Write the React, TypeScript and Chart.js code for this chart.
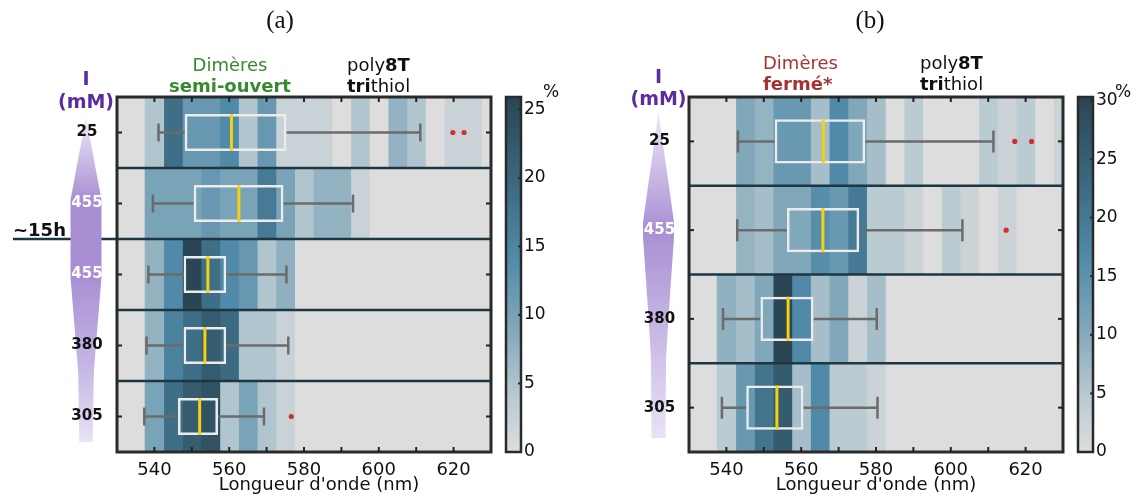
import React, { useEffect, useRef } from 'react';
import { Chart, registerables } from 'chart.js';

Chart.register(...registerables);
Chart.defaults.font.family = '"DejaVu Sans", Verdana, sans-serif';

// ---------- shared axis data ----------
const BIN_CENTERS = [540, 545, 550, 555, 560, 565, 570, 575, 580, 585, 590, 595, 600, 605, 610, 615, 620, 625, 630];
const BIN_WIDTH = 5;
const X_MIN = 530;
const X_MAX = 630;
const X_TICK_LABELS = [540, 560, 580, 600, 620];
const X_MINOR_TICKS = [540, 550, 560, 570, 580, 590, 600, 610, 620];
const X_TITLE = "Longueur d'onde (nm)";

// ---------- panel (a) ----------
const ROWS_A = ['25 mM', '455 mM', '455 mM (~15h)', '380 mM', '305 mM'];
const IONIC_A = ['25', '455', '455', '380', '305'];
const HEAT_A_25 = [4.7, 18.6, 11.7, 11.7, 14.2, 4.7, 11.7, 2.2, 2.2, 2.2, 0, 4.7, 0, 7.3, 4.7, 0, 2.2, 2.2, 0];
const HEAT_A_455 = [9.8, 9.8, 9.8, 11.7, 9.8, 9.8, 16.8, 9.8, 4.7, 7.3, 7.3, 2.2, 0, 0, 0, 0, 0, 0, 0];
const HEAT_A_455_15H = [7.3, 14.2, 25.9, 18.6, 14.2, 11.7, 4.7, 7.8, 0, 0, 0, 0, 0, 0, 0, 0, 0, 0, 0];
const HEAT_A_380 = [7.3, 15.5, 18.6, 22, 19.4, 4.7, 4.7, 2.2, 0, 0, 0, 0, 0, 0, 0, 0, 0, 0, 0];
const HEAT_A_305 = [9.8, 18.6, 22, 23.8, 4.7, 9.8, 4.7, 2.2, 0, 0, 0, 0, 0, 0, 0, 0, 0, 0, 0];
const WHISK_LO_A = [541.1, 539.6, 538.4, 537.9, 537.3];
const Q1_A = [548.1, 550.5, 547.8, 547.8, 546.3];
const MEDIAN_A = [560.6, 562.6, 554.3, 553.5, 552.1];
const Q3_A = [575.3, 574.5, 559.2, 559.2, 557.0];
const WHISK_HI_A = [611.1, 593.1, 575.3, 575.8, 569.3];
const OUTLIERS_A = [[619.8, 622.8], [], [], [], [576.6]];
const CB_TICKS_A = [0, 5, 10, 15, 20, 25];
const CB_MAX_A = 25.9;

// ---------- panel (b) ----------
const ROWS_B = ['25 mM', '455 mM', '380 mM', '305 mM'];
const IONIC_B = ['25', '455', '380', '305'];
const HEAT_B_25 = [0, 10.6, 8.5, 13.6, 13.6, 6.7, 16.7, 10.6, 6.7, 0, 4.5, 0, 0, 0, 4.5, 2.4, 4.5, 0, 2.4];
const HEAT_B_455 = [0, 8.5, 6.7, 10.6, 10.6, 15.8, 13.6, 19.7, 4.5, 4.5, 2.4, 0, 4.5, 2.4, 0, 2.4, 0, 0, 0];
const HEAT_B_380 = [9, 6.7, 10.6, 30.3, 16.7, 6.7, 10.6, 2.4, 6.7, 0, 0, 0, 0, 0, 0, 0, 0, 0, 0];
const HEAT_B_305 = [4.5, 13.6, 20.6, 25.8, 6.7, 16.7, 4.5, 4.5, 2.4, 0, 0, 0, 0, 0, 0, 0, 0, 0, 0];
const WHISK_LO_B = [543.1, 542.9, 539.1, 538.8];
const Q1_B = [552.9, 556.2, 549.1, 545.3];
const MEDIAN_B = [565.9, 565.8, 556.5, 553.5];
const Q3_B = [577.1, 575.5, 563.3, 560.6];
const WHISK_HI_B = [611.4, 603.1, 580.2, 580.4];
const OUTLIERS_B = [[617.1, 621.6], [614.8], [], []];
const CB_TICKS_B = [0, 5, 10, 15, 20, 25, 30];
const CB_MAX_B = 30.3;

// ---------- colormap ----------
const CMAP_STOPS: [number, number[]][] = [
  [0, [221, 221, 221]],
  [0.15, [186, 203, 210]],
  [0.35, [128, 167, 186]],
  [0.55, [80, 138, 168]],
  [0.75, [60, 106, 129]],
  [1, [42, 70, 84]],
];
function cmap(t: number): string {
  const v = Math.max(0, Math.min(1, t));
  for (let i = 1; i < CMAP_STOPS.length; i++) {
    const [t1, c1] = CMAP_STOPS[i];
    const [t0, c0] = CMAP_STOPS[i - 1];
    if (v <= t1) {
      const f = (v - t0) / (t1 - t0);
      const c = c0.map((x, k) => Math.round(x + (c1[k] - x) * f));
      return `rgb(${c[0]},${c[1]},${c[2]})`;
    }
  }
  return 'rgb(42,70,84)';
}

const FONT = '"DejaVu Sans", Verdana, sans-serif';
const DARK_LINE = '#1d3642';

const PANELS: any[] = [
  {
    key: 'a', left: 0, w: 565,
    area: { left: 117, right: 491, top: 97, bottom: 452 },
    rows: ROWS_A, ionic: IONIC_A, whiteRows: [1, 2],
    heat: [HEAT_A_25, HEAT_A_455, HEAT_A_455_15H, HEAT_A_380, HEAT_A_305],
    wlo: WHISK_LO_A, q1: Q1_A, med: MEDIAN_A, q3: Q3_A, whi: WHISK_HI_A, out: OUTLIERS_A,
    cbTicks: CB_TICKS_A, cbMax: CB_MAX_A, cbX: 506, cbW: 15,
    cap: 9, boxPct: 0.52,
    letter: '(a)', letterX: 280,
    dim: { text1: 'Dimères', text2: 'semi-ouvert', color: '#378a2e', x: 230, align: 'center', y1: 71, y2: 92 },
    poly: { x: 347, y1: 71, y2: 92 },
    xTitleX: 319,
    shape: { cx: 86, pts: [[0, 117], [15.5, 200], [15.5, 277], [7.8, 372], [6.7, 442]],
      stops: [[117, '#efe9f8'], [200, '#a88fd3'], [277, '#a88fd3'], [372, '#c7b9e5'], [442, '#e9e2f5']] },
    unitY1: 80, unitY2: 103,
    breakAfter: 1, breakLabel: '~15h',
  },
  {
    key: 'b', left: 565, w: 574,
    area: { left: 124, right: 498, top: 97, bottom: 452 },
    rows: ROWS_B, ionic: IONIC_B, whiteRows: [1],
    heat: [HEAT_B_25, HEAT_B_455, HEAT_B_380, HEAT_B_305],
    wlo: WHISK_LO_B, q1: Q1_B, med: MEDIAN_B, q3: Q3_B, whi: WHISK_HI_B, out: OUTLIERS_B,
    cbTicks: CB_TICKS_B, cbMax: CB_MAX_B, cbX: 513, cbW: 15,
    cap: 11, boxPct: 0.5,
    letter: '(b)', letterX: 305,
    dim: { text1: 'Dimères', text2: 'fermé*', color: '#a83232', x: 198, align: 'left', y1: 69, y2: 90 },
    poly: { x: 355, y1: 69, y2: 90 },
    xTitleX: null,
    shape: { cx: 93.5, pts: [[0, 112], [15.5, 222], [15.5, 237], [10, 317], [7.5, 360], [7, 438]],
      stops: [[112, '#efe9f8'], [230, '#a88fd3'], [317, '#c2b2e2'], [438, '#e9e2f5']] },
    unitY1: 78, unitY2: 100,
    breakAfter: null, breakLabel: null,
  },
];

function line(ctx: CanvasRenderingContext2D, x1: number, y1: number, x2: number, y2: number) {
  ctx.beginPath();
  ctx.moveTo(x1, y1);
  ctx.lineTo(x2, y2);
  ctx.stroke();
}

function text(ctx: CanvasRenderingContext2D, s: string, x: number, y: number, font: string, color: string, align: CanvasTextAlign = 'center', baseline: CanvasTextBaseline = 'alphabetic') {
  ctx.font = font;
  ctx.fillStyle = color;
  ctx.textAlign = align;
  ctx.textBaseline = baseline;
  ctx.fillText(s, x, y);
}

function mixed(ctx: CanvasRenderingContext2D, parts: [string, boolean][], x: number, y: number, size: number, color: string) {
  let cx = x;
  ctx.fillStyle = color;
  ctx.textAlign = 'left';
  ctx.textBaseline = 'alphabetic';
  for (const [s, b] of parts) {
    ctx.font = `${b ? 'bold ' : ''}${size}px ${FONT}`;
    ctx.fillText(s, cx, y);
    cx += ctx.measureText(s).width;
  }
}

function makePlugin(p: any) {
  return {
    id: 'deco_' + p.key,
    beforeDatasetsDraw(chart: any) {
      const { ctx, chartArea: a } = chart;
      ctx.save();
      ctx.fillStyle = '#dddddd';
      ctx.fillRect(a.left, a.top, a.right - a.left, a.bottom - a.top);
      ctx.restore();
    },
    afterDatasetsDraw(chart: any) {
      const ctx: CanvasRenderingContext2D = chart.ctx;
      const a = chart.chartArea;
      const xs = chart.scales.x;
      const ys = chart.scales.y;
      const cs = chart.scales.cb;
      const n = p.rows.length;
      const rowY = (i: number) => ys.getPixelForValue(i);
      ctx.save();
      ctx.lineCap = 'butt';

      // row separators
      ctx.strokeStyle = DARK_LINE;
      ctx.lineWidth = 2.5;
      for (let i = 0; i < n - 1; i++) {
        const y = (rowY(i) + rowY(i + 1)) / 2;
        line(ctx, a.left, y, a.right, y);
      }
      // time break line
      if (p.breakAfter != null) {
        const y = (rowY(p.breakAfter) + rowY(p.breakAfter + 1)) / 2;
        line(ctx, 13, y, a.left, y);
        text(ctx, p.breakLabel, 13, y - 3, `bold 18px ${FONT}`, '#111', 'left', 'alphabetic');
      }

      // frame
      ctx.strokeStyle = '#2a2a2a';
      ctx.lineWidth = 3;
      ctx.strokeRect(a.left, a.top, a.right - a.left, a.bottom - a.top);

      // inner ticks
      ctx.lineWidth = 2;
      ctx.strokeStyle = '#222';
      for (let i = 0; i < n; i++) {
        const y = rowY(i);
        line(ctx, a.left, y, a.left + 5, y);
        line(ctx, a.right - 5, y, a.right, y);
      }
      for (const v of X_MINOR_TICKS) {
        const x = xs.getPixelForValue(v);
        line(ctx, x, a.top, x, a.top + 5);
        line(ctx, x, a.bottom - 5, x, a.bottom);
      }

      // x tick labels and title
      for (const v of X_TICK_LABELS) {
        text(ctx, String(v), xs.getPixelForValue(v), 470, `18px ${FONT}`, '#111', 'center', 'middle');
      }
      const tx = p.xTitleX != null ? p.xTitleX : (a.left + a.right) / 2;
      text(ctx, X_TITLE, tx, 490, `18px ${FONT}`, '#111', 'center', 'alphabetic');

      // colorbar
      const cbTop = cs.getPixelForValue(p.cbMax);
      const cbBot = cs.getPixelForValue(0);
      const g = ctx.createLinearGradient(0, cbBot, 0, cbTop);
      for (let k = 0; k <= 20; k++) g.addColorStop(k / 20, cmap(k / 20));
      ctx.fillStyle = g;
      ctx.fillRect(p.cbX, cbTop, p.cbW, cbBot - cbTop);
      ctx.strokeStyle = '#2a2a2a';
      ctx.lineWidth = 2.5;
      ctx.strokeRect(p.cbX, cbTop, p.cbW, cbBot - cbTop);
      ctx.lineWidth = 2;
      for (const v of p.cbTicks) {
        const y = cs.getPixelForValue(v);
        line(ctx, p.cbX + p.cbW - 3, y, p.cbX + p.cbW + 1, y);
        text(ctx, String(v), p.cbX + p.cbW + 3, y, `17px ${FONT}`, '#111', 'left', 'middle');
      }
      text(ctx, '%', p.cbX + p.cbW + 22, cbTop - 4, `17px ${FONT}`, '#111', 'left', 'middle');

      // ionic strength shape
      const sh = p.shape;
      const grad = ctx.createLinearGradient(0, sh.pts[0][1], 0, sh.pts[sh.pts.length - 1][1]);
      const y0 = sh.pts[0][1];
      const span = sh.pts[sh.pts.length - 1][1] - y0;
      for (const [yy, c] of sh.stops) grad.addColorStop((yy - y0) / span, c);
      ctx.fillStyle = grad;
      ctx.beginPath();
      sh.pts.forEach(([hw, yy]: number[], k: number) => {
        if (k === 0) ctx.moveTo(sh.cx + hw, yy); else ctx.lineTo(sh.cx + hw, yy);
      });
      for (let k = sh.pts.length - 1; k >= 0; k--) ctx.lineTo(sh.cx - sh.pts[k][0], sh.pts[k][1]);
      ctx.closePath();
      ctx.fill();

      for (let i = 0; i < n; i++) {
        const white = p.whiteRows.includes(i);
        text(ctx, p.ionic[i], sh.cx + 1, rowY(i), `bold 15px ${FONT}`, white ? '#ffffff' : '#111', 'center', 'middle');
      }
      text(ctx, 'I', sh.cx, p.unitY1, `bold 19px ${FONT}`, '#5a2ca0', 'center', 'middle');
      text(ctx, '(mM)', sh.cx, p.unitY2, `bold 19px ${FONT}`, '#5a2ca0', 'center', 'middle');

      // titles
      text(ctx, p.letter, p.letterX, 21, '25px "Liberation Serif", serif', '#111', 'center', 'middle');
      const d = p.dim;
      text(ctx, d.text1, d.x, d.y1, `18px ${FONT}`, d.color, d.align, 'alphabetic');
      text(ctx, d.text2, d.x, d.y2, `bold 18px ${FONT}`, d.color, d.align, 'alphabetic');
      mixed(ctx, [['poly', false], ['8T', true]], p.poly.x, p.poly.y1, 18, '#111');
      mixed(ctx, [['tri', true], ['thiol', false]], p.poly.x, p.poly.y2, 18, '#111');

      ctx.restore();
    },
  };
}

function buildConfig(p: any): any {
  const rows: string[] = p.rows;
  const datasets: any[] = [];
  const common = { xAxisID: 'x', yAxisID: 'y' };

  BIN_CENTERS.forEach((c, j) => {
    datasets.push({
      ...common,
      type: 'bar',
      label: 'bin ' + c,
      indexAxis: 'y',
      data: rows.map(() => [c - BIN_WIDTH / 2, c + BIN_WIDTH / 2]),
      backgroundColor: p.heat.map((row: number[]) => cmap(row[j] / p.cbMax)),
      borderWidth: 0,
      barPercentage: 1,
      categoryPercentage: 1,
      grouped: false,
      clip: 0,
      order: 10,
    });
  });

  const wData: any[] = [];
  const wRadius: number[] = [];
  rows.forEach((r, i) => {
    wData.push({ x: p.wlo[i], y: r }, { x: p.q1[i], y: r }, { x: null, y: r },
      { x: p.q3[i], y: r }, { x: p.whi[i], y: r }, { x: null, y: r });
    wRadius.push(p.cap, 0, 0, 0, p.cap, 0);
  });
  datasets.push({
    ...common,
    type: 'line',
    label: 'whiskers',
    data: wData,
    borderColor: '#6b6b6b',
    borderWidth: 2.5,
    pointStyle: 'line',
    pointRotation: 90,
    pointRadius: wRadius,
    pointBorderColor: '#6b6b6b',
    pointBackgroundColor: '#6b6b6b',
    pointBorderWidth: 2.5,
    spanGaps: false,
    fill: false,
    tension: 0,
    order: 5,
  });

  datasets.push({
    ...common,
    type: 'bar',
    label: 'IQR',
    indexAxis: 'y',
    data: rows.map((_, i) => [p.q1[i], p.q3[i]]),
    backgroundColor: 'rgba(0,0,0,0)',
    borderColor: '#ececec',
    borderWidth: 2.5,
    borderSkipped: false,
    barPercentage: p.boxPct,
    categoryPercentage: 1,
    grouped: false,
    order: 3,
  });

  datasets.push({
    ...common,
    type: 'bar',
    label: 'median',
    indexAxis: 'y',
    data: rows.map((_, i) => [p.med[i] - 0.4, p.med[i] + 0.4]),
    backgroundColor: '#f6d10f',
    borderWidth: 0,
    barPercentage: p.boxPct,
    categoryPercentage: 1,
    grouped: false,
    order: 2,
  });

  const oData: any[] = [];
  rows.forEach((r, i) => p.out[i].forEach((v: number) => oData.push({ x: v, y: r })));
  datasets.push({
    ...common,
    type: 'scatter',
    label: 'outliers',
    data: oData,
    pointRadius: 2.6,
    pointBackgroundColor: '#d32f2f',
    pointBorderWidth: 0,
    showLine: false,
    order: 1,
  });

  return {
    type: 'bar',
    data: { labels: rows, datasets },
    options: {
      responsive: false,
      animation: false,
      devicePixelRatio: 1,
      events: [],
      layout: {
        padding: { left: p.area.left, right: p.w - p.area.right, top: p.area.top, bottom: 497 - p.area.bottom },
      },
      plugins: { legend: { display: false }, tooltip: { enabled: false }, title: { display: false } },
      scales: {
        x: { type: 'linear', min: X_MIN, max: X_MAX, offset: false, display: false },
        y: { type: 'category', labels: rows, offset: true, display: false },
        cb: { type: 'linear', axis: 'y', min: 0, max: p.cbMax, offset: false, display: false },
      },
    },
    plugins: [makePlugin(p)],
  };
}

function Panel({ p }: { p: any }) {
  const ref = useRef<HTMLCanvasElement>(null);
  useEffect(() => {
    const chart = new Chart(ref.current as HTMLCanvasElement, buildConfig(p));
    return () => chart.destroy();
  }, [p]);
  return (
    <canvas
      ref={ref}
      width={p.w}
      height={497}
      style={{ position: 'absolute', left: p.left, top: 0, width: p.w, height: 497 }}
    />
  );
}

export default function App() {
  return (
    <div style={{ position: 'fixed', left: 0, top: 0, width: 1139, height: 497, background: '#ffffff' }}>
      {PANELS.map((p) => (
        <Panel key={p.key} p={p} />
      ))}
    </div>
  );
}
